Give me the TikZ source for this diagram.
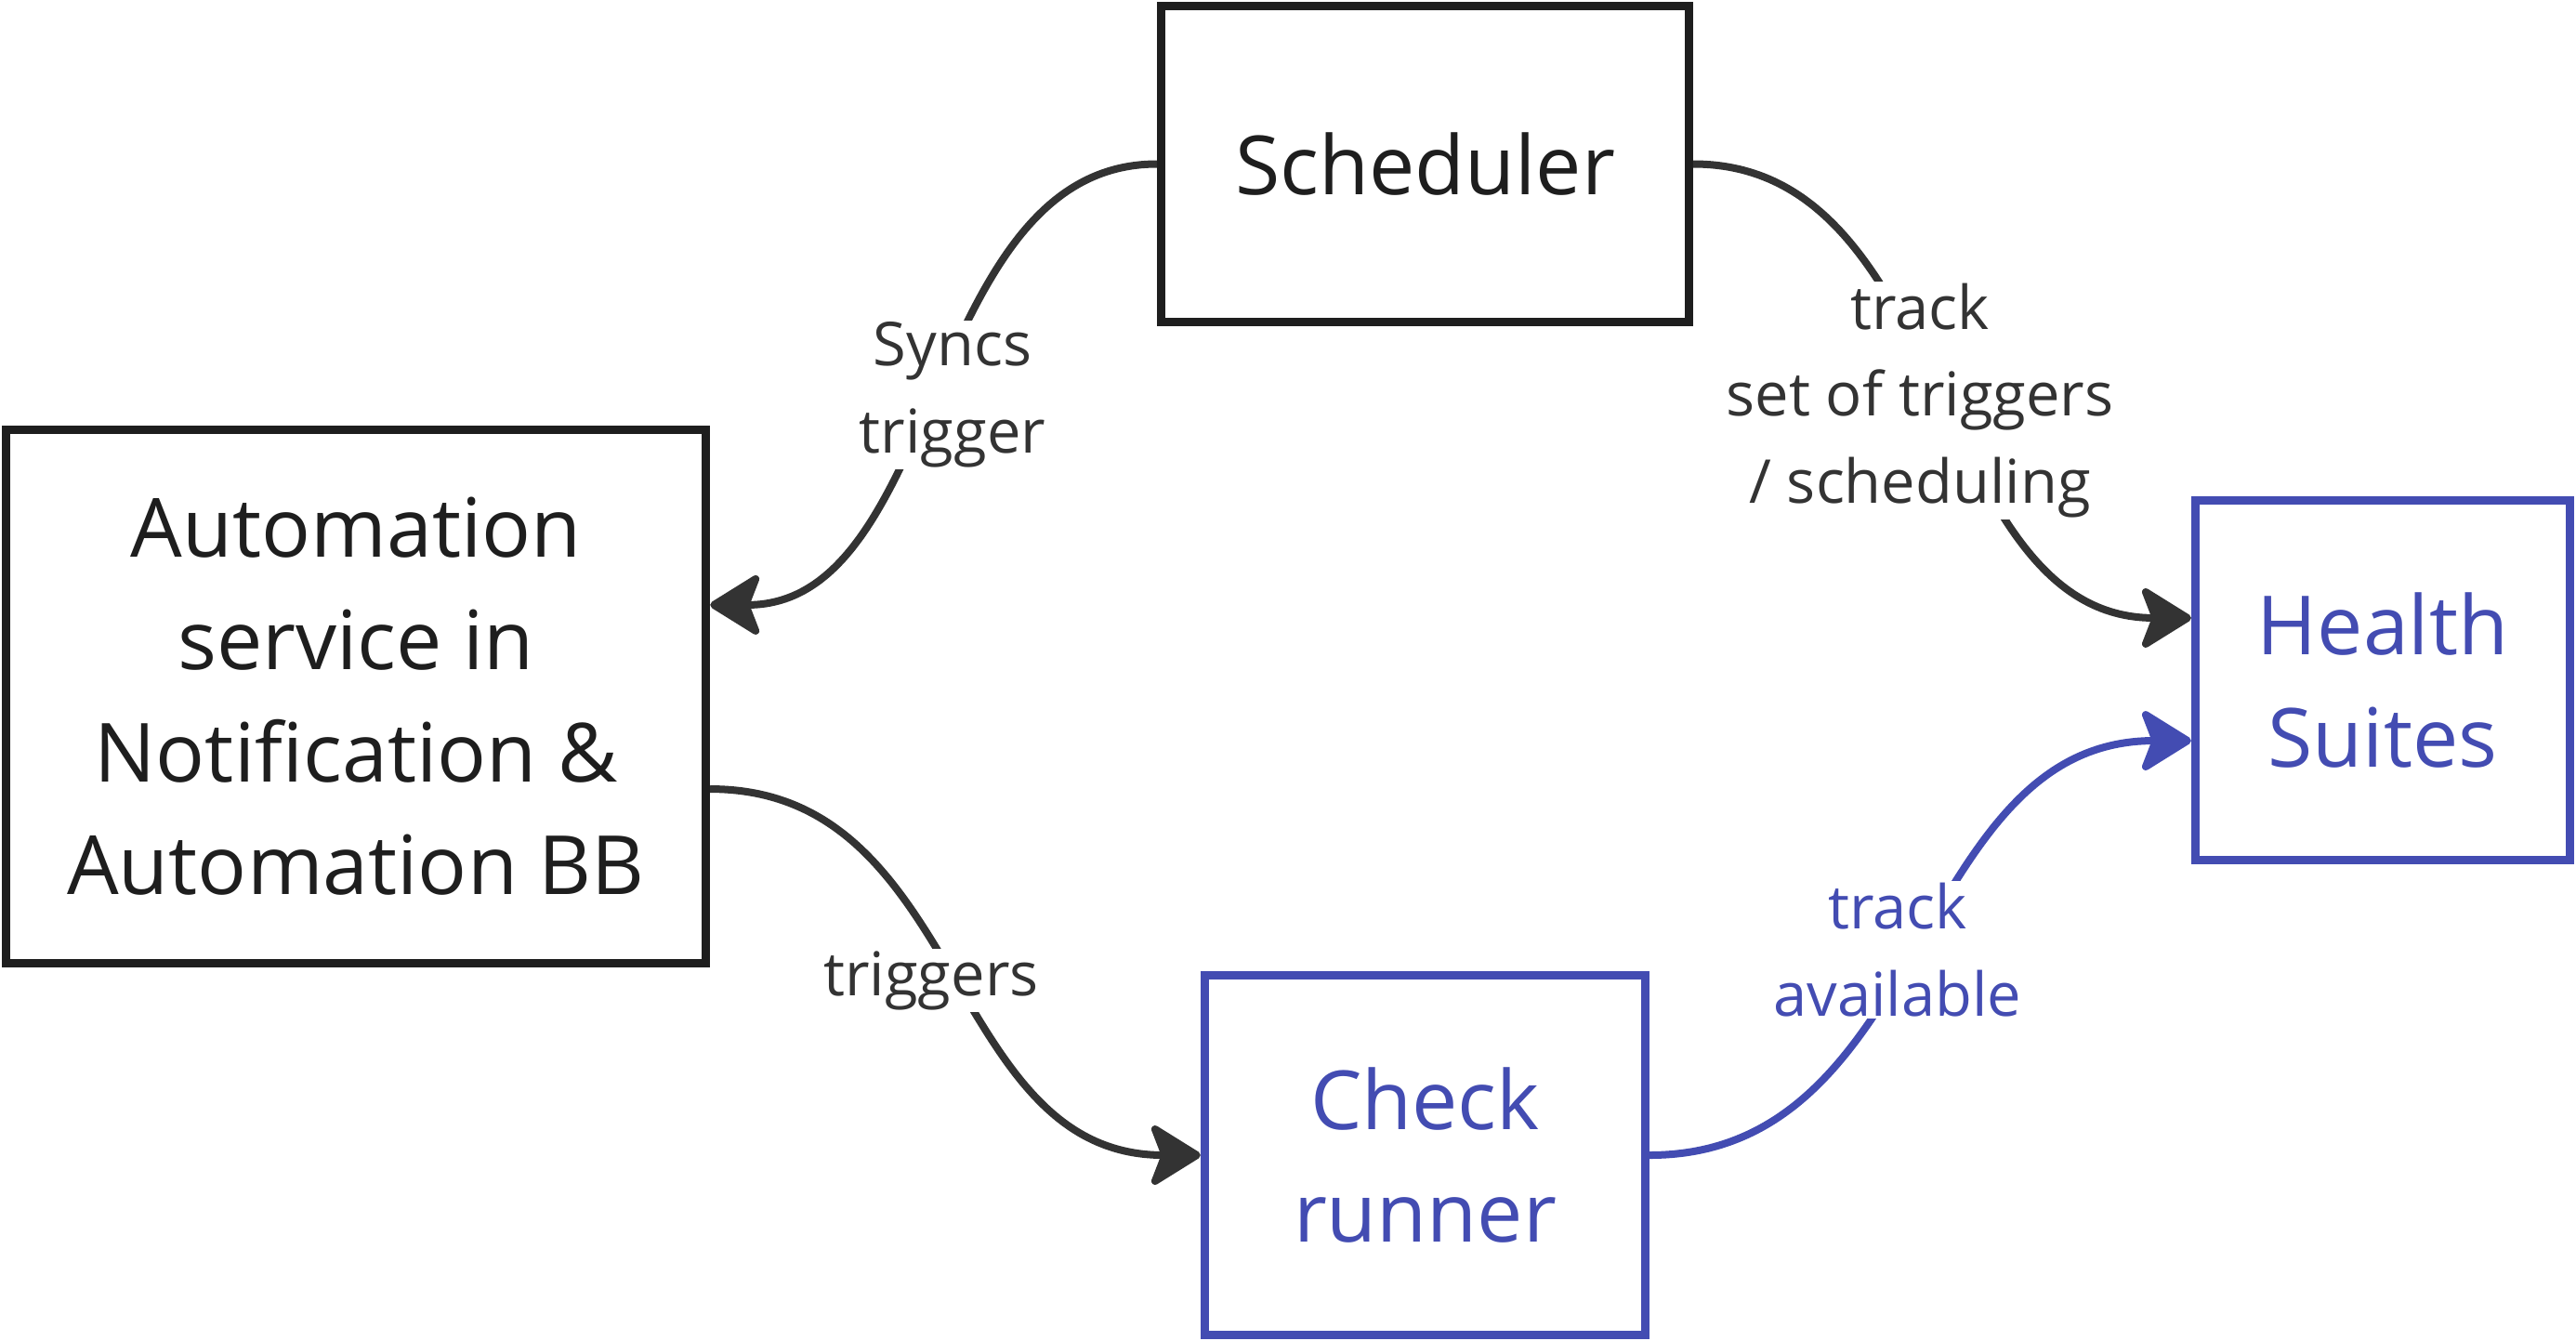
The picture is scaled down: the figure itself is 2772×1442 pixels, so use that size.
\documentclass[tikz,border=0pt]{standalone}
\usepackage{fontspec}
\setmainfont{Open Sans}
\usetikzlibrary{arrows.meta}
\definecolor{boxblack}{HTML}{1E1E1E}
\definecolor{linegray}{HTML}{333333}
\definecolor{blueink}{HTML}{434CB2}
\begin{document}
\begin{tikzpicture}[x=0.01cm,y=-0.01cm,
  box/.style={draw=boxblack, text=boxblack, line width=0.09cm, align=center,
    font=\fontsize{25}{34.4}\selectfont, inner sep=0pt},
  bluebox/.style={box, draw=blueink, text=blueink},
  conn/.style={draw=linegray, line width=0.08cm,
    -{Stealth[length=0.6cm,width=0.74cm,inset=0.14cm,round]}},
  blueconn/.style={conn, draw=blueink},
  lbl/.style={fill=white, text=linegray, align=center,
    font=\fontsize{18.5}{26.7}\selectfont, inner sep=0.02cm},
  bluelbl/.style={lbl, text=blueink},
]
\useasboundingbox[fill=white] (0,0) rectangle (2772,1442);

\node[box, minimum width=5.68cm, minimum height=3.40cm] (sched) at (1533.5,176.5) {Scheduler};
\node[box, minimum width=7.53cm, minimum height=5.74cm] (auto) at (383,749.5)
  {Automation\\service in\\Notification \&\\Automation BB};
\node[bluebox, minimum width=4.74cm, minimum height=3.87cm] (check) at (1533.5,1243) {Check\\runner};
\node[bluebox, minimum width=4.03cm, minimum height=3.87cm] (health) at (2564,732) {Health\\Suites};

\draw[conn] (sched.west) .. controls +(-250,0) and +(250,0) .. ([yshift=0.985cm]auto.east);
\draw[conn] (sched.east) .. controls +(280,0) and +(-280,0) .. ([yshift=0.67cm]health.west);
\draw[conn] ([yshift=-0.995cm]auto.east) .. controls +(275,0) and +(-275,0) .. (check.west);
\draw[blueconn] (check.east) .. controls +(300,0) and +(-300,0) .. ([yshift=-0.65cm]health.west);

\node[lbl] (lsync) at (1025,425) {Syncs\\trigger};
\node[lbl] (ltrack) at (2066,431) {track\\set of triggers\\/ scheduling};
\node[lbl] (ltrig) at (1002,1055) {triggers};
\node[bluelbl] (lavail) at (2042,1022) {track\\available};
\end{tikzpicture}
\end{document}
